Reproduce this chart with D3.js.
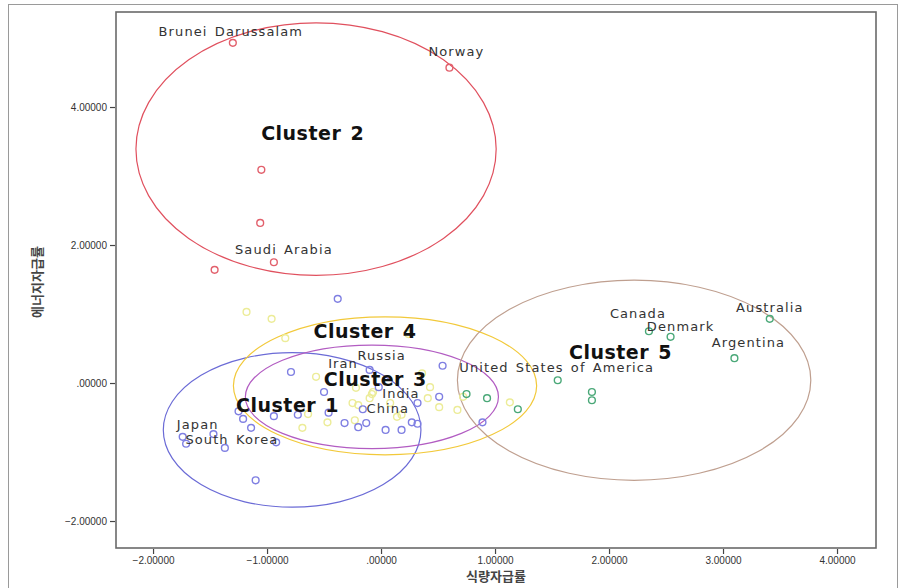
<!DOCTYPE html>
<html>
<head>
<meta charset="utf-8">
<script src="https://cdn.jsdelivr.net/npm/d3@7"></script>
<style>
  html, body { margin: 0; padding: 0; background: #fff; }
  svg { display: block; }
</style>
</head>
<body>
<svg id="chart" width="900" height="588"></svg>
<script>
// Cluster 1 members (food self-sufficiency x, energy self-sufficiency y)
const cluster1 = [
  [-0.38, 1.22], [-0.79, 0.16], [-0.10, 0.19], [0.54, 0.25], [-0.50, -0.13],
  [-0.02, -0.06], [0.51, -0.20], [0.32, -0.29], [-0.16, -0.38], [-1.25, -0.41],
  [-1.21, -0.52], [-1.14, -0.65], [-0.94, -0.48], [-0.73, -0.46], [-0.46, -0.43],
  [-0.32, -0.58], [-0.20, -0.64], [-0.13, -0.58], [0.04, -0.68], [0.18, -0.68],
  [0.27, -0.57], [0.32, -0.59], [0.89, -0.57], [-1.47, -0.74], [-1.74, -0.78],
  [-1.71, -0.88], [-1.37, -0.94], [-0.92, -0.86], [-1.10, -1.41]
];
const cluster2 = [
  [-1.30, 4.93], [0.60, 4.57], [-1.05, 3.09], [-1.06, 2.32], [-0.94, 1.75], [-1.46, 1.64]
];
const cluster4 = [
  [-1.18, 1.03], [-0.96, 0.93], [-0.84, 0.65], [0.24, 0.71], [-0.57, 0.09],
  [-0.22, -0.07], [-0.10, -0.22], [-0.08, -0.16], [-0.07, -0.13], [-0.25, -0.29],
  [-0.20, -0.32], [0.08, -0.29], [-0.64, -0.45], [-0.47, -0.57], [-0.69, -0.65],
  [-0.23, -0.54], [0.14, -0.49], [0.18, -0.46], [0.36, 0.14], [0.43, -0.06],
  [0.41, -0.22], [0.51, -0.35], [0.67, -0.39], [1.13, -0.28], [0.72, -0.20]
];
const cluster5 = [
  [3.41, 0.93], [2.35, 0.75], [2.54, 0.67], [3.10, 0.36], [1.55, 0.04],
  [1.85, -0.13], [1.85, -0.25], [1.20, -0.38], [0.93, -0.22], [0.75, -0.16]
];

// Named countries
const countryNames = ["Brunei Darussalam", "Norway", "Saudi Arabia", "Canada", "Denmark",
  "Australia", "Argentina", "United States of America", "Japan", "South Korea",
  "Iran", "Russia", "India", "China"];
const countryX = [-1.30, 0.60, -0.94, 2.35, 2.54, 3.41, 3.10, 1.55, -1.74, -1.37, -0.57, -0.10, -0.08, -0.16];
const countryY = [4.93, 4.57, 1.75, 0.75, 0.67, 0.93, 0.36, 0.04, -0.78, -0.94, 0.09, 0.19, -0.16, -0.38];

// Cluster regions: centre, radii (data units) and label anchor
const clusterNames = ["Cluster 1", "Cluster 2", "Cluster 3", "Cluster 4", "Cluster 5"];
const clusterCx = [-0.78, -0.57, -0.08, 0.035, 2.22];
const clusterCy = [-0.68, 3.39, -0.20, -0.04, 0.04];
const clusterRx = [1.13, 1.58, 1.11, 1.33, 1.55];
const clusterRy = [1.12, 1.83, 0.75, 1.00, 1.45];
const clusterLabelX = [-0.82, -0.60, -0.05, -0.14, 2.10];
const clusterLabelY = [-0.32, 3.62, 0.06, 0.75, 0.45];

const xTicks = [-2, -1, 0, 1, 2, 3, 4];
const yTicks = [-2, 0, 2, 4];

// ---- layout / style ----
const frame = { left: 116, top: 12, right: 876, bottom: 548 };
const ringColor = ["#6b6bd6", "#e0505e", "#b25cc2", "#f2c93a", "#bf9f8f"];
const pointColor = { c1: "#7f7fe2", c2: "#e2606c", c4: "#ecec98", c5: "#4aa878" };
// label offsets in pixels from each named point
const labelShift = {
  "Brunei Darussalam": [-2, -11], "Norway": [7, -16], "Saudi Arabia": [10, -13],
  "Canada": [-11, -18], "Denmark": [10, -10], "Australia": [0, -11],
  "Argentina": [14, -16], "United States of America": [-1, -13],
  "Japan": [15, -12], "South Korea": [7, -8], "Iran": [27, -13],
  "Russia": [12, -14], "India": [29, -1], "China": [25, -1]
};

const svg = d3.select("#chart");

const x = d3.scaleLinear().domain([-2.325, 4.342]).range([frame.left, frame.right]);
const y = d3.scaleLinear().domain([-2.391, 5.377]).range([frame.bottom, frame.top]);

const fmt = v => {
  const s = d3.format(".5f")(v);
  return s.replace(/^(-?)0\./, "$1.");
};

// outer panel border
svg.append("rect").attr("x", 8.5).attr("y", 4.5).attr("width", 889).attr("height", 600)
  .attr("fill", "none").attr("stroke", "#9a9a9a").attr("stroke-width", 1);

// plot frame
svg.append("rect")
  .attr("x", frame.left).attr("y", frame.top)
  .attr("width", frame.right - frame.left).attr("height", frame.bottom - frame.top)
  .attr("fill", "#fff").attr("stroke", "#6a6a6a").attr("stroke-width", 1.6);

// axes
const xAxis = svg.append("g").attr("transform", `translate(0,${frame.bottom + 1})`)
  .call(d3.axisBottom(x).tickValues(xTicks).tickSize(5).tickPadding(3).tickFormat(fmt));
const yAxis = svg.append("g").attr("transform", `translate(${frame.left - 1},0)`)
  .call(d3.axisLeft(y).tickValues(yTicks).tickSize(5).tickPadding(3).tickFormat(fmt));
[xAxis, yAxis].forEach(g => {
  g.select(".domain").remove();
  g.selectAll(".tick line").attr("stroke", "#444").attr("stroke-width", 1.2);
  g.selectAll(".tick text").attr("fill", "#333")
    .style("font-family", "'Liberation Sans', Arial, sans-serif").style("font-size", "10px");
});

// axis titles
svg.append("text").attr("x", (frame.left + frame.right) / 2).attr("y", 581)
  .attr("text-anchor", "middle").attr("fill", "#444")
  .style("font-family", "'Noto Sans CJK KR', sans-serif").style("font-size", "13px")
  .style("font-weight", "bold").text("식량자급률");
svg.append("text").attr("transform", `translate(42,${(frame.top + frame.bottom) / 2 + 2}) rotate(-90)`)
  .attr("text-anchor", "middle").attr("fill", "#444")
  .style("font-family", "'Noto Sans CJK KR', sans-serif").style("font-size", "13px")
  .style("font-weight", "bold").text("에너지자급률");

const plot = svg.append("g");

// cluster rings
const clusters = clusterNames.map((n, i) => ({
  name: n, cx: clusterCx[i], cy: clusterCy[i], rx: clusterRx[i], ry: clusterRy[i],
  lx: clusterLabelX[i], ly: clusterLabelY[i], color: ringColor[i]
}));
plot.selectAll("ellipse.ring").data(clusters).join("ellipse")
  .attr("class", "ring")
  .attr("cx", d => x(d.cx)).attr("cy", d => y(d.cy))
  .attr("rx", d => x(d.cx + d.rx) - x(d.cx))
  .attr("ry", d => y(d.cy) - y(d.cy + d.ry))
  .attr("fill", "none").attr("stroke", d => d.color).attr("stroke-width", 1.2);

// member points
const groups = [
  { pts: cluster4, color: pointColor.c4 },
  { pts: cluster1, color: pointColor.c1 },
  { pts: cluster2, color: pointColor.c2 },
  { pts: cluster5, color: pointColor.c5 }
];
groups.forEach(g => {
  plot.append("g").selectAll("circle").data(g.pts).join("circle")
    .attr("cx", d => x(d[0])).attr("cy", d => y(d[1])).attr("r", 3.4)
    .attr("fill", "none").attr("stroke", g.color).attr("stroke-width", 1.4);
});

// country labels
const countries = countryNames.map((n, i) => ({ name: n, x: countryX[i], y: countryY[i] }));
plot.selectAll("text.country").data(countries).join("text")
  .attr("class", "country")
  .attr("x", d => x(d.x) + labelShift[d.name][0])
  .attr("y", d => y(d.y) + labelShift[d.name][1])
  .attr("text-anchor", "middle").attr("dominant-baseline", "central")
  .attr("fill", "#333")
  .style("font-family", "'DejaVu Sans', sans-serif")
  .style("font-size", "13px").style("letter-spacing", "1.1px").style("word-spacing", "2px")
  .text(d => d.name);

// cluster titles
plot.selectAll("text.cluster").data(clusters).join("text")
  .attr("class", "cluster")
  .attr("x", d => x(d.lx)).attr("y", d => y(d.ly))
  .attr("text-anchor", "middle").attr("dominant-baseline", "central")
  .attr("fill", "#111")
  .style("font-family", "'DejaVu Sans', sans-serif")
  .style("font-size", "19px").style("font-weight", "bold")
  .style("letter-spacing", "0.5px").style("word-spacing", "2px")
  .text(d => d.name);
</script>
</body>
</html>
